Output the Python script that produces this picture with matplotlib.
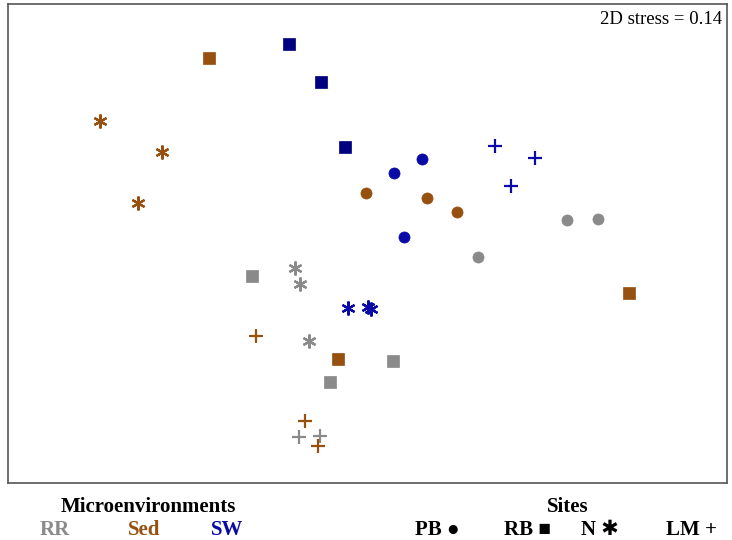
import matplotlib.pyplot as plt

# ----------------------------
# NMDS scores
# ----------------------------
micro = ["RR"] * 11 + ["Sed"] * 12 + ["SW"] * 12
site = (["PB"] * 3 + ["RB"] * 3 + ["N"] * 3 + ["LM"] * 2
        + ["PB"] * 3 + ["RB"] * 3 + ["N"] * 3 + ["LM"] * 3
        + ["PB"] * 3 + ["RB"] * 3 + ["N"] * 3 + ["LM"] * 3)

nmds1 = [0.796, 0.920, 0.440, -0.464, 0.100, -0.152, -0.292, -0.272, -0.236, -0.276, -0.192,
         -0.008, 0.236, 0.356, -0.636, 1.044, -0.120, -1.072, -0.824, -0.920, -0.448, -0.252, -0.200,
         0.104, 0.216, 0.144, -0.316, -0.188, -0.092, -0.080, 0.000, 0.012, 0.508, 0.668, 0.572]
nmds2 = [0.100, 0.104, -0.048, -0.124, -0.464, -0.548, -0.092, -0.156, -0.384, -0.768, -0.764,
         0.208, 0.188, 0.132, 0.748, -0.192, -0.456, 0.496, 0.372, 0.168, -0.364, -0.704, -0.804,
         0.288, 0.344, 0.032, 0.804, 0.652, 0.392, -0.252, -0.248, -0.256, 0.396, 0.348, 0.236]

stress = 0.14

colors = {"RR": "#8a8a8a", "Sed": "#96500f", "SW": "#0a0aa6"}
markers = {"PB": "o", "RB": "s", "N": (6, 2, 0), "LM": "+"}
sizes = {"PB": 8, "RB": 8.5, "N": 10, "LM": 10}

# ----------------------------
# Plot
# ----------------------------
fig = plt.figure(figsize=(7.32, 5.4), dpi=100)
ax = fig.add_axes([0.0109, 0.1056, 0.982, 0.887])

for x, y, m, s in zip(nmds1, nmds2, micro, site):
    c = colors[m]
    if m == "SW" and s == "RB":
        c = "#000080"
    ax.plot(x, y, linestyle="none", marker=markers[s], markersize=sizes[s],
            color=c, markerfacecolor=c, markeredgecolor=c,
            markeredgewidth=1.6 if s in ("N", "LM") else 0.5)

ax.set_xlim(-1.44, 1.436)
ax.set_ylim(-0.952, 0.964)
ax.set_xticks([])
ax.set_yticks([])
for sp in ax.spines.values():
    sp.set_color("#555555")
    sp.set_linewidth(1.2)

ax.text(0.993, 0.985, f"2D stress = {stress}", transform=ax.transAxes,
        ha="right", va="top", fontsize=13.5, family="Liberation Serif")

# ----------------------------
# Legend text under the box
# ----------------------------
fam = ["Liberation Serif", "DejaVu Sans"]
lf = dict(family=fam, fontweight="bold", fontsize=15, va="center")
fig.text(148 / 732, 1 - 507 / 540, "Microenvironments", ha="center", **lf)
fig.text(55 / 732, 1 - 530 / 540, "RR", ha="center", color=colors["RR"], **lf)
fig.text(144 / 732, 1 - 530 / 540, "Sed", ha="center", color=colors["Sed"], **lf)
fig.text(227 / 732, 1 - 530 / 540, "SW", ha="center", color=colors["SW"], **lf)
fig.text(568 / 732, 1 - 507 / 540, "Sites", ha="center", **lf)
fig.text(437 / 732, 1 - 530 / 540, "PB \u25cf", ha="center", **lf)
fig.text(527 / 732, 1 - 530 / 540, "RB \u25a0", ha="center", **lf)
fig.text(600 / 732, 1 - 530 / 540, "N \u2731", ha="center", **lf)
fig.text(692 / 732, 1 - 530 / 540, "LM +", ha="center", **lf)

fig.savefig("out.png", dpi=100)
